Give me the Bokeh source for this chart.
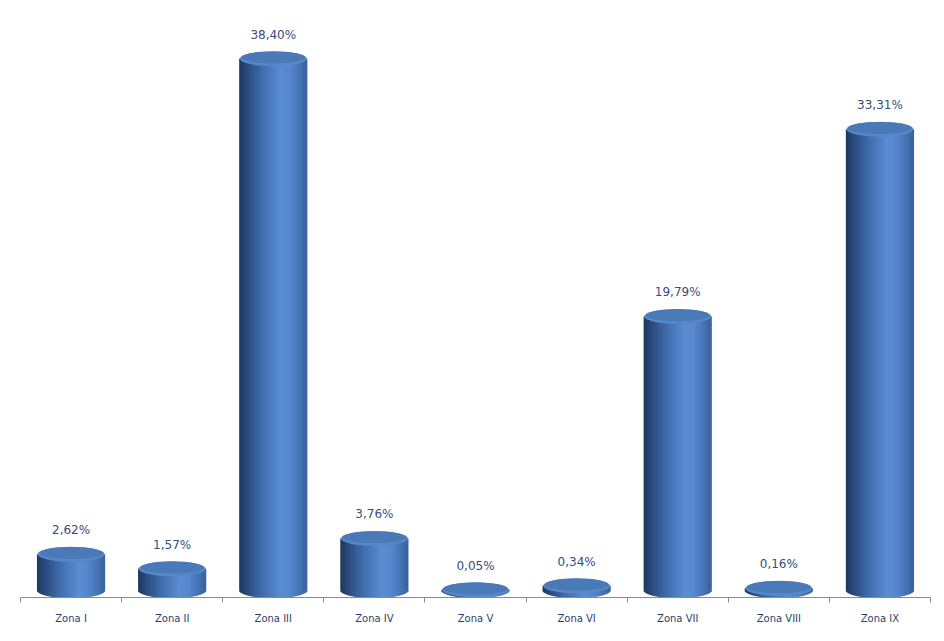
import math
from bokeh.plotting import figure
from bokeh.models import Range1d, FixedTicker, ColumnDataSource
from bokeh.core.properties import value
from bokeh.embed import file_html
from bokeh.resources import INLINE

# ---- data ----
zones = ["Zona I", "Zona II", "Zona III", "Zona IV", "Zona V",
         "Zona VI", "Zona VII", "Zona VIII", "Zona IX"]
shares = [2.62, 1.57, 38.40, 3.76, 0.05, 0.34, 19.79, 0.16, 33.31]
share_labels = ["2,62%", "1,57%", "38,40%", "3,76%", "0,05%",
                "0,34%", "19,79%", "0,16%", "33,31%"]

# ---- geometry / style ----
W, H = 932, 633
BL, BR, BT, BB = 20, 2, 18, 36
FRAME_W = W - BL - BR
FRAME_H = H - BT - BB
YMIN, YMAX = -0.505, 41.3
SY = FRAME_H / (YMAX - YMIN)          # px per data unit (y)
SX = FRAME_W / len(zones)             # px per category
CYL_W_PX = 67
CAP_H_PX = 15
BAR_W = CYL_W_PX / SX
NSTRIP = 67
B_DATA = (CAP_H_PX / 2) / SY

stops = [(0.0, (0x1D, 0x37, 0x5E)), (0.12, (0x2B, 0x4B, 0x7E)),
         (0.35, (0x41, 0x6E, 0xAD)), (0.62, (0x5A, 0x8D, 0xD4)),
         (0.75, (0x57, 0x88, 0xCE)), (0.92, (0x45, 0x71, 0xB1)),
         (1.0, (0x3A, 0x62, 0x9E))]


def shade(t):
    for (t0, c0), (t1, c1) in zip(stops[:-1], stops[1:]):
        if t0 <= t <= t1:
            f = (t - t0) / (t1 - t0)
            c = [round(a + (b - a) * f) for a, b in zip(c0, c1)]
            return "#%02x%02x%02x" % tuple(c)
    return "#%02x%02x%02x" % stops[-1][1]


xs, tops, bottoms, cols = [], [], [], []
for i, v in enumerate(shares):
    for k in range(NSTRIP):
        t = (k + 0.5) / NSTRIP
        u = 2 * t - 1
        xs.append(i - BAR_W / 2 + t * BAR_W)
        tops.append(v)
        bottoms.append(-B_DATA * math.sqrt(max(0.0, 1 - u * u)))
        cols.append(shade(t))

p = figure(width=W, height=H, output_backend="svg", toolbar_location=None,
           x_range=Range1d(-0.5, len(zones) - 0.5), y_range=Range1d(YMIN, YMAX),
           min_border_left=BL, min_border_right=BR, min_border_top=BT,
           min_border_bottom=BB)
p.outline_line_color = None
p.xgrid.visible = False
p.ygrid.visible = False
p.yaxis.visible = False
p.background_fill_color = "white"
p.border_fill_color = "white"

strip_src = ColumnDataSource(dict(x=xs, top=tops, bottom=bottoms, color=cols))
p.vbar(x="x", top="top", bottom="bottom", width=BAR_W / NSTRIP * 2.2,
       fill_color="color", line_color=None, source=strip_src)

idx = list(range(len(zones)))
# top caps
p.ellipse(x=idx, y=shares, width=CYL_W_PX, height=CAP_H_PX,
          width_units="screen", height_units="screen",
          fill_color="#5787C7", line_color=None)
p.ellipse(x=idx, y=[v + 1.2 / SY for v in shares], width=CYL_W_PX - 3,
          height=CAP_H_PX - 3, width_units="screen", height_units="screen",
          fill_color="#4A79B8", line_color=None)

# value labels
p.text(x=idx, y=shares, text=share_labels, y_offset=-24,
       text_align="center", text_baseline="middle",
       text_font=value("DejaVu Sans"), text_font_size="12px",
       text_color="#384C7A")

ax = p.xaxis[0]
ax.ticker = FixedTicker(ticks=idx, minor_ticks=[i - 0.5 for i in range(len(zones) + 1)])
ax.major_label_overrides = {i: z for i, z in enumerate(zones)}
ax.major_tick_out = 0
ax.major_tick_in = 0
ax.minor_tick_out = 5
ax.minor_tick_in = 0
ax.minor_tick_line_color = "#8A8A8A"
ax.axis_line_color = "#8A8A8A"
ax.major_label_standoff = 10
ax.major_label_text_font = "DejaVu Sans"
ax.major_label_text_font_size = "10px"
ax.major_label_text_color = "#2A3F6B"

open("out.html", "w").write(file_html(p, INLINE))
